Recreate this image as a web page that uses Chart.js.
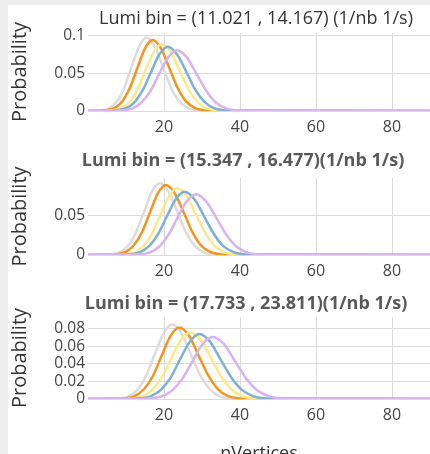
<!DOCTYPE html>
<html><head><meta charset="utf-8">
<script src="https://cdn.jsdelivr.net/npm/chart.js@4.4.1/dist/chart.umd.min.js"></script>
<style>
html,body{margin:0;padding:0;width:430px;height:454px;overflow:hidden;background:#eeeeee;}
#panel{position:absolute;left:8px;top:5px;width:422px;height:449px;background:#ffffff;}
canvas{position:absolute;left:0;}
</style></head><body>
<div id="panel"></div>
<canvas id="c1" width="430" height="145" style="top:0px"></canvas>
<canvas id="c2" width="430" height="140" style="top:145px"></canvas>
<canvas id="c3" width="430" height="184" style="top:285px"></canvas>
<script>
// ---------- data ----------
const titles = [
  "Lumi bin = (11.021 , 14.167) (1/nb 1/s)",
  "Lumi bin = (15.347 , 16.477)(1/nb 1/s)",
  "Lumi bin = (17.733 , 23.811)(1/nb 1/s)"
];
const xTitle = "nVertices";
const yTitle = "Probability";
const xTicks = [20, 40, 60, 80];
const yTicks1 = [0, 0.05, 0.1];
const yTicks2 = [0, 0.05];
const yTicks3 = [0, 0.02, 0.04, 0.06, 0.08];

// Panel 1
const p1GrayX   = [0,1.9,3.8,5.7,7.7,9.6,11.5,13.5,15.4,17.5,19.7,21.8,23.9,26.1,28.2,30.3,90];
const p1GrayY   = [0,.0002,.0011,.0043,.0133,.0318,.0594,.0865,.098,.0865,.0594,.0318,.0133,.0043,.0011,.0002,0];
const p1OrangeX = [0,3.0,5.0,7.0,9.0,11.0,13.0,15.0,17.0,19.2,21.4,23.6,25.8,28.1,30.3,32.5,90];
const p1OrangeY = [0,.0002,.0011,.0042,.0128,.0307,.0574,.0836,.0947,.0836,.0574,.0307,.0128,.0042,.0011,.0002,0];
const p1YellowX = [0,4.5,6.6,8.8,10.9,13.0,15.1,17.3,19.4,21.8,24.1,26.5,28.8,31.2,33.5,35.9,90];
const p1YellowY = [0,.0002,.001,.0039,.012,.0289,.054,.0785,.089,.0785,.054,.0289,.012,.0039,.001,.0002,0];
const p1BlueX   = [0,5.5,7.7,10.0,12.2,14.4,16.6,18.8,21.0,23.4,25.9,28.3,30.8,33.2,35.6,38.1,90];
const p1BlueY   = [0,.0002,.001,.0038,.0116,.0278,.052,.0756,.0857,.0756,.052,.0278,.0116,.0038,.001,.0002,0];
const p1PurpleX = [0,7.0,9.4,11.7,14.0,16.4,18.7,21.1,23.4,26.0,28.6,31.2,33.7,36.3,38.9,41.5,90];
const p1PurpleY = [0,.0002,.0009,.0036,.011,.0263,.0491,.0715,.081,.0715,.0491,.0263,.011,.0036,.0009,.0002,0];

// Panel 2
const p2GrayX   = [0,4.5,6.5,8.6,10.7,12.7,14.8,16.8,18.9,21.2,23.5,25.7,28.0,30.3,32.6,34.9,90];
const p2GrayY   = [0,.0002,.001,.004,.0124,.0299,.0558,.0812,.092,.0812,.0558,.0299,.0124,.004,.001,.0002,0];
const p2OrangeX = [0,5.7,7.8,9.9,12.0,14.2,16.3,18.4,20.5,22.8,25.2,27.5,29.8,32.2,34.5,36.8,90];
const p2OrangeY = [0,.0002,.001,.0039,.0121,.0291,.0544,.0792,.0897,.0792,.0544,.0291,.0121,.0039,.001,.0002,0];
const p2YellowX = [0,8.0,10.2,12.4,14.6,16.9,19.1,21.3,23.5,26.0,28.4,30.9,33.3,35.8,38.2,40.7,90];
const p2YellowY = [0,.0002,.001,.0038,.0116,.0278,.0519,.0755,.0855,.0755,.0519,.0278,.0116,.0038,.001,.0002,0];
const p2BlueX   = [0,9.0,11.4,13.7,16.0,18.4,20.7,23.1,25.4,28.0,30.6,33.2,35.7,38.3,40.9,43.5,90];
const p2BlueY   = [0,.0002,.0009,.0036,.011,.0263,.0491,.0715,.081,.0715,.0491,.0263,.011,.0036,.0009,.0002,0];
const p2PurpleX = [0,11.4,13.8,16.3,18.7,21.1,23.5,26.0,28.4,31.1,33.8,36.5,39.1,41.8,44.5,47.2,90];
const p2PurpleY = [0,.0002,.0009,.0034,.0106,.0253,.0473,.0688,.078,.0688,.0473,.0253,.0106,.0034,.0009,.0002,0];

// Panel 3
const p3GrayX   = [0,6.5,8.7,11.0,13.2,15.4,17.6,19.9,22.1,24.6,27.0,29.5,32.0,34.4,36.9,39.4,90];
const p3GrayY   = [0,.0002,.0009,.0037,.0115,.0276,.0516,.075,.085,.075,.0516,.0276,.0115,.0037,.0009,.0002,0];
const p3OrangeX = [0,7.8,10.1,12.4,14.7,17.1,19.4,21.7,24.0,26.6,29.1,31.7,34.2,36.8,39.4,41.9,90];
const p3OrangeY = [0,.0002,.0009,.0036,.0111,.0266,.0496,.0722,.0818,.0722,.0496,.0266,.0111,.0036,.0009,.0002,0];
const p3YellowX = [0,9.5,12.0,14.5,16.9,19.4,21.9,24.4,26.9,29.7,32.4,35.2,37.9,40.7,43.4,46.2,90];
const p3YellowY = [0,.0002,.0008,.0033,.0103,.0247,.0462,.0672,.0761,.0672,.0462,.0247,.0103,.0033,.0008,.0002,0];
const p3BlueX   = [0,11.5,14.0,16.6,19.1,21.7,24.2,26.8,29.3,32.1,34.9,37.8,40.6,43.4,46.2,49.0,90];
const p3BlueY   = [0,.0002,.0008,.0033,.0101,.0241,.0451,.0656,.0743,.0656,.0451,.0241,.0101,.0033,.0008,.0002,0];
const p3PurpleX = [0,14.1,16.8,19.4,22.1,24.8,27.5,30.1,32.8,35.8,38.7,41.7,44.6,47.6,50.5,53.5,90];
const p3PurpleY = [0,.0002,.0008,.0031,.0096,.023,.043,.0626,.0709,.0626,.043,.023,.0096,.0031,.0008,.0002,0];

// ---------- styles ----------
const colors = { gray:'#dcdcdc', orange:'#f7941d', yellow:'#fde98a', blue:'#7eafd4', purple:'#d8b3ef' };
const FONT = "'Open Sans', 'Noto Sans', sans-serif";
Chart.defaults.font.family = FONT;

const panelTitle = {
  id: 'panelTitle',
  afterDraw(chart, args, o) {
    const ctx = chart.ctx;
    ctx.save();
    ctx.font = o.font;
    ctx.fillStyle = o.color;
    ctx.textAlign = 'center';
    ctx.textBaseline = 'middle';
    ctx.fillText(o.text, o.x, o.y);
    ctx.restore();
  }
};

function pts(xs, ys) { return xs.map((x, i) => ({ x: x, y: ys[i] })); }
function ds(xs, ys, color, order) {
  return { data: pts(xs, ys), borderColor: color, borderWidth: 2.5, pointRadius: 0,
           fill: false, cubicInterpolationMode: 'monotone', order: order };
}

function makeChart(id, cfg) {
  const s = cfg.series;
  new Chart(document.getElementById(id), {
    type: 'line',
    data: { datasets: [
      ds(s[0][0], s[0][1], colors.gray, 5),
      ds(s[1][0], s[1][1], colors.orange, 4),
      ds(s[2][0], s[2][1], colors.yellow, 3),
      ds(s[3][0], s[3][1], colors.blue, 2),
      ds(s[4][0], s[4][1], colors.purple, 1)
    ]},
    plugins: [panelTitle],
    options: {
      responsive: false, animation: false, events: [],
      layout: { padding: { top: cfg.padTop, left: 0, right: 0, bottom: 0 } },
      plugins: {
        legend: { display: false }, tooltip: { enabled: false },
        panelTitle: { text: cfg.title, x: cfg.tx, y: cfg.ty, font: cfg.tfont, color: cfg.tcolor }
      },
      scales: {
        x: {
          type: 'linear', min: 0, max: 90,
          afterBuildTicks: sc => { sc.ticks = xTicks.map(v => ({ value: v })); },
          afterFit: sc => { sc.height = cfg.xh; },
          grid: { color: '#dadada', drawTicks: false },
          border: { display: false },
          ticks: { padding: 7, color: '#444', font: { size: 16 }, maxRotation: 0, autoSkip: false },
          title: { display: cfg.showX, text: xTitle, color: '#333', font: { size: 18 }, padding: { top: 4, bottom: 4 } }
        },
        y: {
          min: 0, max: cfg.ymax,
          afterBuildTicks: sc => { sc.ticks = cfg.yTicks.map(v => ({ value: v })); },
          afterFit: sc => { sc.width = 88; },
          grid: { color: '#dadada', drawTicks: false },
          border: { display: false },
          ticks: { padding: 3, color: '#444', font: { size: 15.5 }, autoSkip: false, callback: v => String(v) },
          title: { display: true, text: yTitle, color: '#333', font: { size: 20 }, padding: { top: 8, bottom: 0 } }
        }
      }
    }
  });
}

makeChart('c1', {
  series: [[p1GrayX,p1GrayY],[p1OrangeX,p1OrangeY],[p1YellowX,p1YellowY],[p1BlueX,p1BlueY],[p1PurpleX,p1PurpleY]],
  yTicks: yTicks1, ymax: 0.104, padTop: 33, xh: 34, showX: false,
  title: titles[0], tx: 256, ty: 18.5, tfont: "18px " + FONT, tcolor: '#333'
});
makeChart('c2', {
  series: [[p2GrayX,p2GrayY],[p2OrangeX,p2OrangeY],[p2YellowX,p2YellowY],[p2BlueX,p2BlueY],[p2PurpleX,p2PurpleY]],
  yTicks: yTicks2, ymax: 0.0987, padTop: 33, xh: 30, showX: false,
  title: titles[1], tx: 243, ty: 16, tfont: "bold 18px " + FONT, tcolor: '#595959'
});
makeChart('c3', {
  series: [[p3GrayX,p3GrayY],[p3OrangeX,p3OrangeY],[p3YellowX,p3YellowY],[p3BlueX,p3BlueY],[p3PurpleX,p3PurpleY]],
  yTicks: yTicks3, ymax: 0.0937, padTop: 32, xh: 70, showX: true,
  title: titles[2], tx: 246, ty: 18.5, tfont: "bold 18px " + FONT, tcolor: '#595959'
});
</script>
</body></html>
